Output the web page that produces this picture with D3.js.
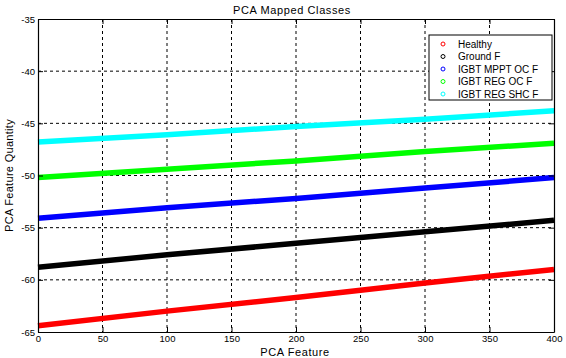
<!DOCTYPE html>
<html lang="en">
  <head>
    <meta charset="UTF-8" />
    <title>PCA Mapped Classes</title>
    <script src="https://d3js.org/d3.v7.min.js"></script>
    <style>
      body { margin: 0; background: #fff; }
      text { font-family: "Liberation Sans", Arial, sans-serif; fill: #000; }
      .grid line { stroke: #000; stroke-dasharray: 3,3; stroke-width: 1; }
    </style>
  </head>
  <body>
    <div id="chart"></div>
    <script>
      // class names and colours
      const classes = ['Healthy', 'Ground F', 'IGBT MPPT OC F', 'IGBT REG OC F', 'IGBT REG SHC F'];
      const colors = ['#ff0000', '#000000', '#0000ff', '#00ff00', '#00ffff'];

      // values at these feature positions
      const featureX = [0, 100, 200, 300, 400];
      const healthy = [-64.4, -63.0, -61.7, -60.3, -59.0];
      const groundF = [-58.8, -57.6, -56.5, -55.4, -54.3];
      const mpptOC = [-54.1, -53.1, -52.2, -51.2, -50.2];
      const regOC = [-50.2, -49.4, -48.6, -47.7, -46.9];
      const regSHC = [-46.8, -46.1, -45.3, -44.6, -43.8];
      const series = [healthy, groundF, mpptOC, regOC, regSHC];

      const xTicks = [0, 50, 100, 150, 200, 250, 300, 350, 400];
      const yTicks = [-65, -60, -55, -50, -45, -40, -35];

      const W = 566, H = 358;
      const margin = { top: 19, right: 12, bottom: 26, left: 38 };
      const width = W - margin.left - margin.right;
      const height = H - margin.top - margin.bottom;

      const svg = d3.select('#chart').append('svg')
        .attr('width', W).attr('height', H);
      const g = svg.append('g')
        .attr('transform', 'translate(' + margin.left + ',' + margin.top + ')');

      const x = d3.scaleLinear().domain([0, 400]).range([0, width]);
      const y = d3.scaleLinear().domain([-65, -35]).range([height, 0]);

      // dashed grid
      g.append('g').attr('class', 'grid')
        .selectAll('line').data(xTicks.slice(1, -1)).enter().append('line')
        .attr('x1', d => x(d)).attr('x2', d => x(d))
        .attr('y1', 0).attr('y2', height);
      g.append('g').attr('class', 'grid')
        .selectAll('line').data(yTicks.slice(1, -1)).enter().append('line')
        .attr('y1', d => y(d)).attr('y2', d => y(d))
        .attr('x1', 0).attr('x2', width);

      // series bands
      const line = d3.line().x((d, i) => x(featureX[i])).y(d => y(d));
      series.forEach((s, k) => {
        g.append('path').datum(s)
          .attr('d', line)
          .attr('fill', 'none')
          .attr('stroke', colors[k])
          .attr('stroke-width', 5.5);
      });

      // axes with inward ticks, matlab style box
      const fmt = d => d;
      g.append('g').attr('transform', 'translate(0,' + height + ')')
        .call(d3.axisBottom(x).tickValues(xTicks).tickSizeInner(-5).tickSizeOuter(0).tickPadding(3).tickFormat(fmt));
      g.append('g')
        .call(d3.axisLeft(y).tickValues(yTicks).tickSizeInner(-5).tickSizeOuter(0).tickPadding(3).tickFormat(fmt));
      g.append('g')
        .call(d3.axisTop(x).tickValues(xTicks).tickSizeInner(-5).tickSizeOuter(0).tickFormat(''));
      g.append('g').attr('transform', 'translate(' + width + ',0)')
        .call(d3.axisRight(y).tickValues(yTicks).tickSizeInner(-5).tickSizeOuter(0).tickFormat(''));
      g.selectAll('.domain').attr('stroke', '#000').attr('stroke-width', 1.2);
      g.selectAll('.tick line').attr('stroke', '#000');
      g.selectAll('.tick text').style('font-size', '9.5px');

      // titles
      svg.append('text').attr('x', 292).attr('y', 14)
        .attr('text-anchor', 'middle').style('font-size', '11px')
        .style('letter-spacing', '0.6px').text('PCA Mapped Classes');
      svg.append('text').attr('x', 295).attr('y', 356)
        .attr('text-anchor', 'middle').style('font-size', '11px')
        .style('letter-spacing', '0.6px').text('PCA Feature');
      svg.append('text')
        .attr('transform', 'translate(13,' + (margin.top + height / 2) + ') rotate(-90)')
        .attr('text-anchor', 'middle').style('font-size', '11px')
        .style('letter-spacing', '0.3px').text('PCA Feature Quantity');

      // legend
      const leg = svg.append('g').attr('transform', 'translate(429,35)');
      leg.append('rect').attr('width', 123).attr('height', 65)
        .attr('fill', '#fff').attr('stroke', '#000');
      classes.forEach((c, k) => {
        const row = leg.append('g').attr('transform', 'translate(0,' + (9 + k * 12.5) + ')');
        row.append('circle').attr('cx', 14).attr('cy', 0).attr('r', 2)
          .attr('fill', 'none').attr('stroke', colors[k]);
        row.append('text').attr('x', 29).attr('y', 3.5)
          .style('font-size', '10px').text(c);
      });
    </script>
  </body>
</html>
